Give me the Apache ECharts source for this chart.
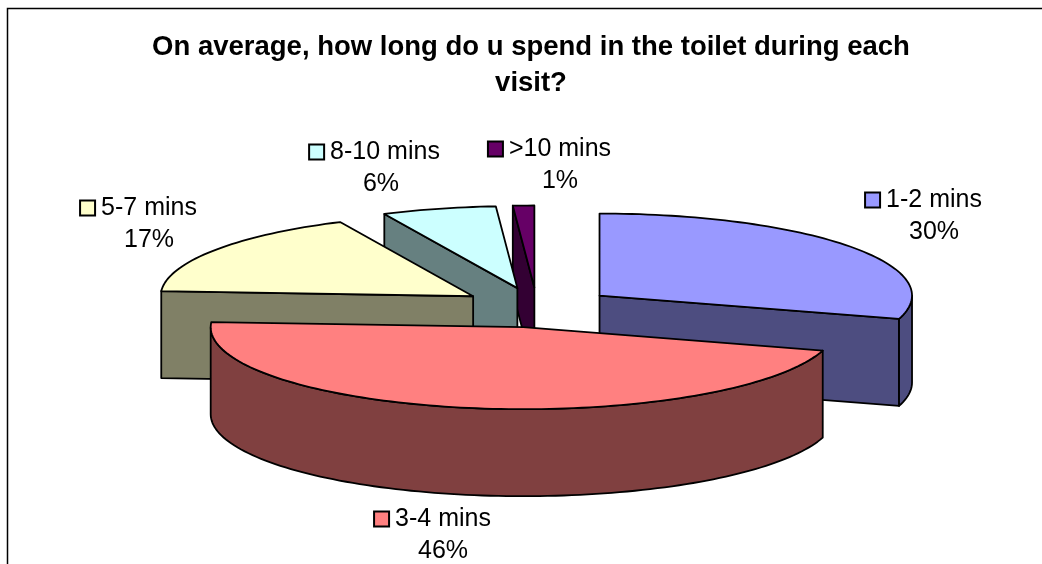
<!DOCTYPE html>
<html><head><meta charset="utf-8">
<style>html,body{margin:0;padding:0;background:#fff}#c{width:1042px;height:564px}</style>
<script src="https://cdn.jsdelivr.net/npm/echarts@6/dist/echarts.min.js"></script>
</head><body><div id="c"></div>
<script>
// data (labels show the rounded percentage)
const categories = ['1-2 mins', '3-4 mins', '5-7 mins', '8-10 mins', '>10 mins'];
const percents = [29.6, 46.4, 17, 5.9, 1.1];
const titleLines = ['On average, how long do u spend in the toilet during each', 'visit?'];
// style / layout
const topColors = ['#9999FF', '#FF8080', '#FFFFCC', '#CCFFFF', '#660066'];
const sideColors = ['#4D4D80', '#804040', '#808066', '#668080', '#330033'];
const pie = { cx: 537, cy: 307.5, rx: 312.5, ry: 82, depth: 87, exX: 76, exY: 20 };
const sliceNudgeX = [1.6, -0.5, -1, -0.5, 0];
const labelCenters = [[934, 200], [443, 519], [149, 208], [385, 152], [560, 149]];
const percentCenterX = [934, 443, 149, 381, 560];
const labelRowGap = 32;
const labelFontSize = 25;
const labelFamily = '"Liberation Sans", Arial, sans-serif';
const labelFont = labelFontSize + 'px ' + labelFamily;
const keySize = 15;

const total = percents.reduce((a, b) => a + b, 0);
const rad = d => d * Math.PI / 180;
function sliceAngles(i) {
  let s = 0;
  for (let k = 0; k < i; k++) s += percents[k];
  return [s / total * 360, (s + percents[i]) / total * 360];
}
const pt = (c, a, dy) => [c[0] + pie.rx * Math.sin(rad(a)), c[1] - pie.ry * Math.cos(rad(a)) + (dy || 0)];
function arcPts(c, a0, a1, dy) {
  const n = Math.max(2, Math.ceil(Math.abs(a1 - a0) / 1.5));
  const out = [];
  for (let k = 0; k <= n; k++) out.push(pt(c, a0 + (a1 - a0) * k / n, dy));
  return out;
}
const lineStyle = (fill) => ({ fill: fill, stroke: '#000', lineWidth: 1.8, lineJoin: 'round' });
function renderSlice(params, api) {
  const i = api.value(0);
  const [a0, a1] = sliceAngles(i);
  const mid = (a0 + a1) / 2;
  const c = [pie.cx + pie.exX * Math.sin(rad(mid)) + sliceNudgeX[i], pie.cy - pie.exY * Math.cos(rad(mid))];
  const children = [];
  const poly = (points, fill) => children.push({ type: 'polygon', shape: { points }, style: lineStyle(fill) });
  // radial walls that face the viewer
  [[a0, -1], [a1, 1]].forEach(([a, side]) => {
    if (side * Math.sin(rad(a)) > 1e-6) {
      const p = pt(c, a);
      poly([c, p, [p[0], p[1] + pie.depth], [c[0], c[1] + pie.depth]], sideColors[i]);
    }
  });
  // outer wall (front half of the ellipse)
  const w0 = Math.max(a0, 90), w1 = Math.min(a1, 270);
  if (w1 > w0) {
    poly(arcPts(c, w0, w1).concat(arcPts(c, w1, w0, pie.depth)), sideColors[i]);
  }
  // top face
  poly([c].concat(arcPts(c, a0, a1)), topColors[i]);
  return { type: 'group', children };
}
const measureCtx = document.createElement('canvas').getContext('2d');
function renderLabel(params, api) {
  const i = api.value(0);
  const [x, y] = labelCenters[i];
  measureCtx.font = labelFont;
  const w = measureCtx.measureText(categories[i]).width;
  return { type: 'group', children: [
    { type: 'text', style: { text: categories[i], x: x, y: y, font: labelFont, fill: '#000', textAlign: 'center', textVerticalAlign: 'middle' } },
    { type: 'text', style: { text: Math.round(percents[i]) + '%', x: percentCenterX[i], y: y + labelRowGap, font: labelFont, fill: '#000', textAlign: 'center', textVerticalAlign: 'middle' } },
    { type: 'rect', shape: { x: x - w / 2 - keySize - 6, y: y - keySize / 2, width: keySize, height: keySize }, style: { fill: topColors[i], stroke: '#000', lineWidth: 2 } }
  ] };
}
// back-to-front: slices whose explosion points away from the viewer go first
const drawOrder = percents.map((v, i) => i).sort((p, q) => {
  const m = i => { const [a, b] = sliceAngles(i); return Math.cos(rad((a + b) / 2)); };
  return m(q) - m(p);
});
const chart = echarts.init(document.getElementById('c'), null, { renderer: 'canvas' });
chart.setOption({
  backgroundColor: '#fff',
  animation: false,
  title: {
    text: titleLines.join('\n'), left: 526, top: 24, textAlign: 'center',
    textStyle: { fontFamily: labelFamily, fontWeight: 'bold', fontSize: 27.5, lineHeight: 36, color: '#000' }
  },
  graphic: [{ type: 'polyline', z: -1, shape: { points: [[7.5, 564], [7.5, 8.5], [1042, 8.5]] }, style: { fill: 'none', stroke: '#000', lineWidth: 1.5 } }],
  series: [
    { type: 'custom', coordinateSystem: 'none', renderItem: renderSlice, data: drawOrder.map(i => [i, percents[i]]), silent: true },
    { type: 'custom', coordinateSystem: 'none', renderItem: renderLabel, data: percents.map((v, i) => [i, v]), silent: true }
  ]
});
</script></body></html>
